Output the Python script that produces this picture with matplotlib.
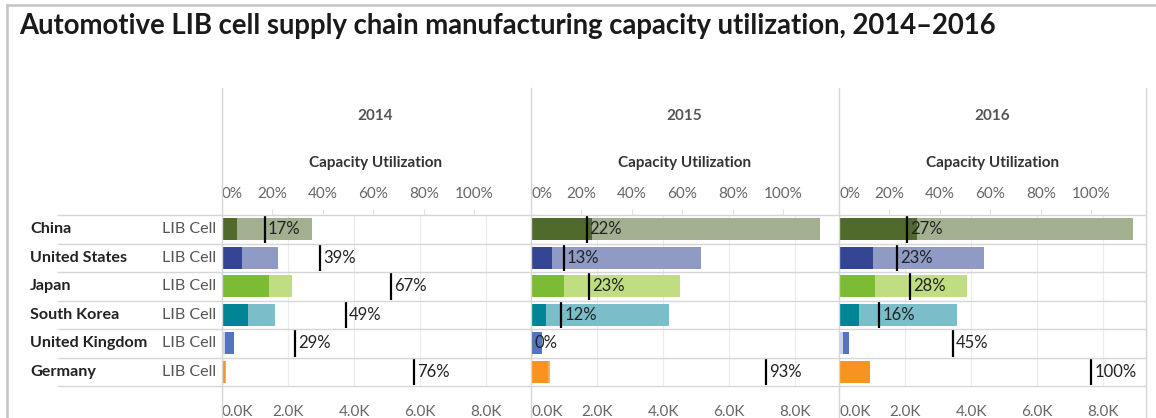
import matplotlib.pyplot as plt
from matplotlib.lines import Line2D

plt.rcParams['font.family'] = ['Lato', 'DejaVu Sans']

countries = ["China", "United States", "Japan", "South Korea", "United Kingdom", "Germany"]
years = ["2014", "2015", "2016"]

# production (dark bar), K units
prod_2014 = [0.44, 0.62, 1.41, 0.80, 0.10, 0.09]
prod_2015 = [1.84, 0.65, 1.01, 0.45, 0.00, 0.53]
prod_2016 = [2.35, 1.03, 1.10, 0.60, 0.13, 0.95]
# capacity (light bar), K units
cap_2014 = [2.73, 1.70, 2.13, 1.62, 0.37, 0.12]
cap_2015 = [8.75, 5.14, 4.50, 4.18, 0.33, 0.58]
cap_2016 = [8.91, 4.39, 3.87, 3.58, 0.31, 0.95]
# capacity utilization, %
util_2014 = [17, 39, 67, 49, 29, 76]
util_2015 = [22, 13, 23, 12, 0, 93]
util_2016 = [27, 23, 28, 16, 45, 100]

dark = ["#4f6a2b", "#334593", "#7cbb34", "#008595", "#c9d1ea", "#f7931e"]
light = ["#a2b08f", "#8f9bc5", "#c0de81", "#7bbdc9", "#5573c0", "#f9ae55"]

prods = [prod_2014, prod_2015, prod_2016]
caps = [cap_2014, cap_2015, cap_2016]
utils = [util_2014, util_2015, util_2016]

W, H = 1156, 418
fig = plt.figure(figsize=(W / 100, H / 100), dpi=100)

def fx(px):
    return px / W

def fy(py):
    return 1 - py / H

# frame
fig.add_artist(Line2D([fx(7), fx(7)], [fy(5), fy(418)], color="#c4c4c4", lw=1.8))
fig.add_artist(Line2D([fx(7), fx(1156)], [fy(5), fy(5)], color="#c4c4c4", lw=1.8))

fig.text(fx(19), fy(26), "Automotive LIB cell supply chain manufacturing capacity utilization, 2014\u20132016",
         fontsize=19.8, fontweight="bold", color="#1a1a1a", va="center", ha="left")

top, bottom = 215, 386
row_h = (bottom - top) / len(countries)
lefts = [222, 531, 839]
pw = 307

for i in range(len(countries) + 1):
    y = top + i * row_h
    fig.add_artist(Line2D([fx(58), fx(1146)], [fy(y), fy(y)], color="#d6d6d6", lw=1))

for x in lefts + [1146]:
    fig.add_artist(Line2D([fx(x), fx(x)], [fy(88), fy(418)], color="#d6d6d6", lw=1))

for i, c in enumerate(countries):
    y = top + (i + 0.5) * row_h
    fig.text(fx(30), fy(y), c, fontsize=11.6, fontweight="bold", color="#222222", va="center")
    fig.text(fx(162), fy(y), "LIB Cell", fontsize=11.6, color="#555555", va="center")

for k, yr in enumerate(years):
    L = lefts[k]
    ax = fig.add_axes([fx(L), fy(bottom), pw / W, (bottom - top) / H])
    ax.set_xlim(0, 9.3)
    ax.set_ylim(len(countries) - 0.5, -0.5)
    ypos = list(range(len(countries)))
    ax.barh(ypos, caps[k], height=0.78, color=light, zorder=2)
    ax.barh(ypos, prods[k], height=0.78, color=dark, zorder=3)
    ax.set_xticks([0, 2, 4, 6, 8])
    ax.set_xticklabels(["0.0K", "2.0K", "4.0K", "6.0K", "8.0K"], fontsize=11, color="#666666")
    ax.get_xticklabels()[0].set_ha("left")
    ax.tick_params(axis="x", length=0, pad=14)
    ax.set_yticks([])
    ax.grid(axis="x", color="#ececec", lw=0.8, zorder=0)
    for s in ax.spines.values():
        s.set_visible(False)

    ax2 = ax.twiny()
    ax2.set_xlim(0, 121.6)
    ax2.set_ylim(len(countries) - 0.5, -0.5)
    ax2.vlines(utils[k], [p - 0.48 for p in ypos], [p + 0.48 for p in ypos], color="black", lw=1.6, zorder=5)
    for p, u in zip(ypos, utils[k]):
        ax2.text(u + 1.2, p, f"{u}%", fontsize=12, color="#222222", va="center", ha="left", zorder=6)
    ax2.set_xticks([0, 20, 40, 60, 80, 100])
    ax2.set_xticklabels(["0%", "20%", "40%", "60%", "80%", "100%"], fontsize=11, color="#666666")
    ax2.get_xticklabels()[0].set_ha("left")
    ax2.tick_params(axis="x", length=4, color="#e0e0e0", pad=6)
    for s in ax2.spines.values():
        s.set_visible(False)

    cx = L + pw / 2
    fig.text(fx(cx), fy(116), yr, fontsize=11, fontweight="bold", color="#555555", ha="center", va="center")
    fig.text(fx(cx), fy(163), "Capacity Utilization", fontsize=11, fontweight="bold", color="#333333",
             ha="center", va="center")

fig.savefig("out.png", dpi=100)
